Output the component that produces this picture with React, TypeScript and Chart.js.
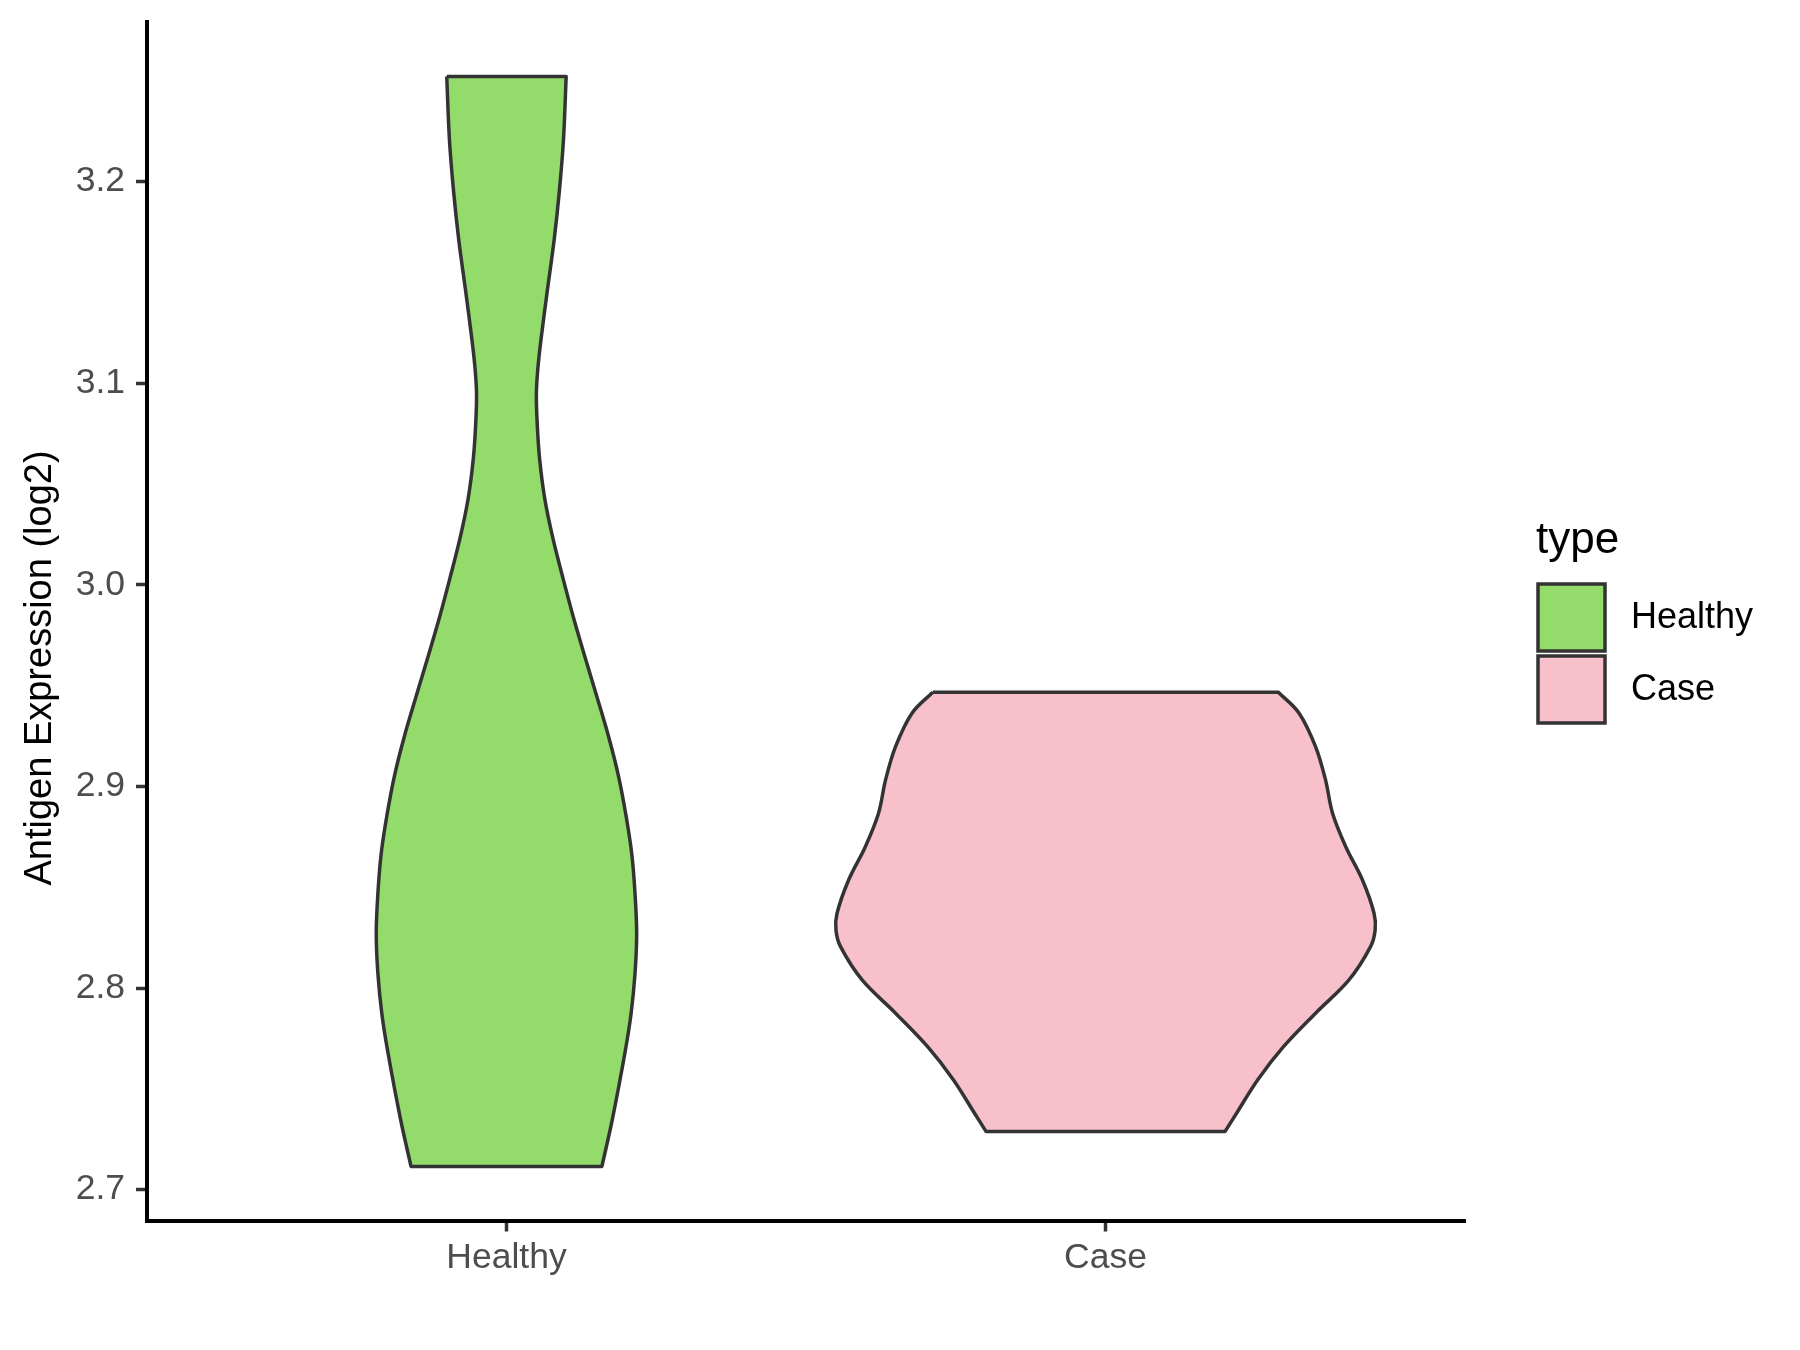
import React, { useEffect, useRef } from "react";
import { Chart, registerables } from "chart.js";

Chart.register(...registerables);

const categories = ["Healthy", "Case"];
const categoryPositions = [1, 2];
const fillColors = ["#93DB6B", "#F7C0CB"];

// Expression levels (top to bottom) and relative density (1 = widest violin)
const healthyY = [3.2521, 3.2207, 3.1959, 3.1711, 3.1463, 3.1215, 3.108, 3.095, 3.08, 3.0624, 3.0428, 3.0232, 3.0036, 2.984, 2.9643, 2.9447, 2.9251, 2.9055, 2.8859, 2.8663, 2.8467, 2.827, 2.8074, 2.787, 2.7683, 2.735, 2.7115];
const healthyDensity = [0.2215, 0.2115, 0.1967, 0.177, 0.152, 0.128, 0.117, 0.111, 0.114, 0.123, 0.142, 0.172, 0.209, 0.248, 0.291, 0.335, 0.378, 0.415, 0.443, 0.465, 0.477, 0.483, 0.477, 0.462, 0.44, 0.393, 0.354];

const caseY = [2.9467, 2.9363, 2.9197, 2.9032, 2.8867, 2.8701, 2.8536, 2.8371, 2.8288, 2.8205, 2.804, 2.7875, 2.7709, 2.7544, 2.7379, 2.7288];
const caseDensity = [0.641, 0.718, 0.779, 0.816, 0.842, 0.891, 0.953, 0.996, 1.0, 0.983, 0.903, 0.779, 0.66, 0.564, 0.486, 0.443];

const yTicks = [2.7, 2.8, 2.9, 3.0, 3.1, 3.2];
const yMin = 2.6847;
const yMax = 3.2791;
const xMin = 0.4;
const xMax = 2.6;
const maxHalfWidth = 0.45;

const FONT = "'Liberation Sans', Arial, sans-serif";

function outline(pos: number, ys: number[], dens: number[]) {
  const n = ys.length;
  const R = ys.map((y, i) => ({ x: pos + dens[i] * maxHalfWidth, y }));
  const L = ys.map((y, i) => ({ x: pos - dens[i] * maxHalfWidth, y }));
  const pts: { x: number; y: number }[] = [];
  pts.push(L[0]);
  pts.push(R[0], R[0]);
  for (let i = 1; i < n - 1; i++) pts.push(R[i]);
  pts.push(R[n - 1], R[n - 1]);
  pts.push(L[n - 1], L[n - 1]);
  for (let i = n - 2; i >= 1; i--) pts.push(L[i]);
  pts.push(L[0], L[0]);
  return pts.map((p) => ({ x: p.x, y: p.y }));
}

const overlayPlugin = {
  id: "overlay",
  afterDraw(chart: any) {
    const ctx = chart.ctx;
    ctx.save();
    ctx.translate(41, 668);
    ctx.rotate(-Math.PI / 2);
    ctx.fillStyle = "#000000";
    ctx.font = `38px ${FONT}`;
    ctx.textAlign = "center";
    ctx.textBaseline = "middle";
    ctx.fillText("Antigen Expression (log2)", 0, 0);
    ctx.restore();

    ctx.save();
    ctx.fillStyle = "#000000";
    ctx.font = `44px ${FONT}`;
    ctx.textAlign = "left";
    ctx.textBaseline = "alphabetic";
    ctx.fillText("type", 1536, 553);
    const boxX = 1538;
    const boxW = 67;
    const boxTops = [584, 656];
    categories.forEach((c, i) => {
      ctx.fillStyle = fillColors[i];
      ctx.strokeStyle = "#333333";
      ctx.lineWidth = 3.5;
      ctx.beginPath();
      ctx.rect(boxX, boxTops[i], boxW, boxW);
      ctx.fill();
      ctx.stroke();
      ctx.fillStyle = "#000000";
      ctx.font = `36px ${FONT}`;
      ctx.textBaseline = "middle";
      ctx.fillText(c, 1631, boxTops[i] + boxW / 2 + 1);
    });
    ctx.restore();
  },
};

export default function App() {
  const ref = useRef<HTMLCanvasElement | null>(null);
  useEffect(() => {
    if (!ref.current) return;
    const datasets = [
      { ys: healthyY, dens: healthyDensity },
      { ys: caseY, dens: caseDensity },
    ].map((d, i) => ({
      label: categories[i],
      data: outline(categoryPositions[i], d.ys, d.dens),
      showLine: true,
      fill: "shape",
      backgroundColor: fillColors[i],
      borderColor: "#333333",
      borderWidth: 3.5,
      borderJoinStyle: "round",
      pointRadius: 0,
      pointHoverRadius: 0,
      tension: 0.35,
    }));
    const chart = new Chart(ref.current, {
      type: "scatter",
      data: { datasets: datasets as any },
      plugins: [overlayPlugin],
      options: {
        animation: false,
        responsive: false,
        maintainAspectRatio: false,
        layout: { padding: { top: 22, right: 335, bottom: 0, left: 0 } },
        plugins: { legend: { display: false }, tooltip: { enabled: false } },
        scales: {
          x: {
            type: "linear",
            min: xMin,
            max: xMax,
            afterFit: (s: any) => {
              s.height = 129.5;
              s.paddingLeft = 0;
              s.paddingRight = 0;
            },
            afterBuildTicks: (s: any) => {
              s.ticks = categoryPositions.map((v) => ({ value: v }));
            },
            grid: {
              drawOnChartArea: false,
              drawTicks: true,
              tickLength: 11,
              tickWidth: 3.5,
              tickColor: "#333333",
            },
            border: { display: true, color: "#000000", width: 4 },
            ticks: {
              padding: 5,
              color: "#4D4D4D",
              font: { family: FONT, size: 35.5 },
              callback: (v: any) => {
                const idx = categoryPositions.indexOf(Number(v));
                return idx >= 0 ? categories[idx] : "";
              },
            },
          },
          y: {
            type: "linear",
            min: yMin,
            max: yMax,
            afterFit: (s: any) => {
              s.width = 147;
              s.paddingTop = 0;
              s.paddingBottom = 0;
            },
            afterBuildTicks: (s: any) => {
              s.ticks = yTicks.map((v) => ({ value: v }));
            },
            grid: {
              drawOnChartArea: false,
              drawTicks: true,
              tickLength: 11,
              tickWidth: 3.5,
              tickColor: "#333333",
            },
            border: { display: true, color: "#000000", width: 4 },
            ticks: {
              padding: 11,
              color: "#4D4D4D",
              font: { family: FONT, size: 35.5 },
              callback: (v: any) => Number(v).toFixed(1),
            },
          },
        },
      },
    });
    return () => chart.destroy();
  }, []);
  return (
    <div style={{ position: "fixed", left: 0, top: 0, width: 1800, height: 1350, background: "#ffffff" }}>
      <canvas ref={ref} width={1800} height={1350} style={{ width: 1800, height: 1350, display: "block" }} />
    </div>
  );
}
